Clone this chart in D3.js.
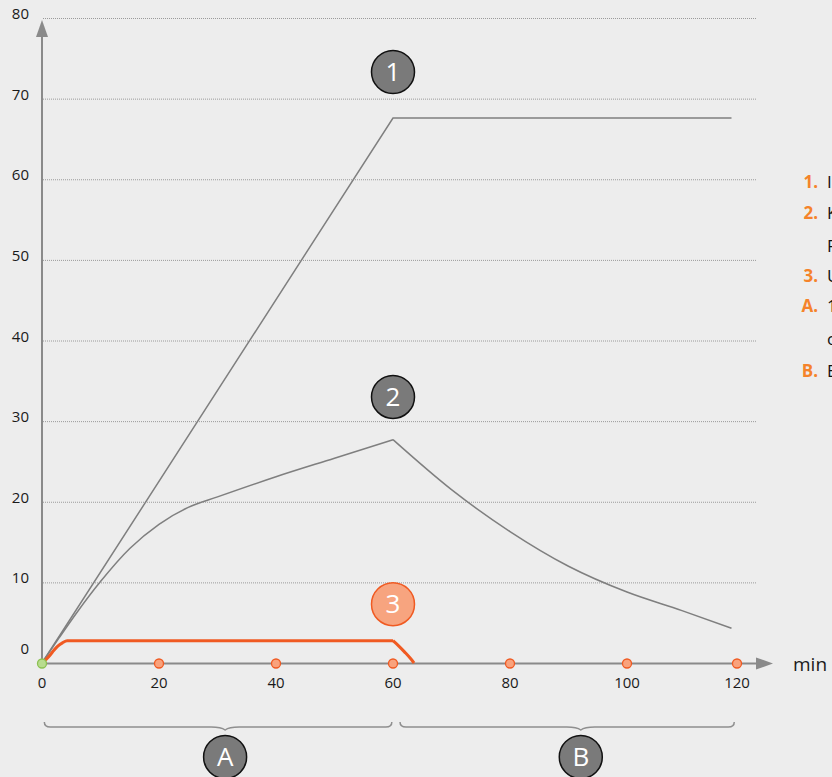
<!DOCTYPE html>
<html>
<head>
<meta charset="utf-8">
<script src="https://cdn.jsdelivr.net/npm/d3@7"></script>
<style>
  html, body { margin: 0; padding: 0; background: #ededed; overflow: hidden; }
  svg { display: block; font-family: "Open Sans", "Noto Sans", sans-serif; }
</style>
</head>
<body>
<script>
// y grid / tick values
var yTicks = [10, 20, 30, 40, 50, 60, 70, 80];
var yLabels = [0, 10, 20, 30, 40, 50, 60, 70, 80];
var xTicks = [0, 20, 40, 60, 80, 100, 120];
var xDots = [20, 40, 60, 80, 100, 120];

// curve 1 : min / value
var line1Min = [0, 60, 119];
var line1Val = [0, 67.6, 67.6];

// curve 2 : rising part and falling part
var line2UpMin = [0, 3, 6, 10, 15, 20, 25, 30, 40, 50, 60];
var line2UpVal = [0, 3.2, 6.3, 10.1, 14.2, 17.2, 19.3, 20.6, 23.1, 25.4, 27.7];
var line2DownMin = [60, 70, 80, 90, 100, 110, 119];
var line2DownVal = [27.7, 21.5, 16.3, 12.0, 8.8, 6.5, 4.3];

// curve 3 : orange
var line3UpMin = [0, 0.7, 1.4, 2, 2.7, 3.5, 4.3, 60];
var line3UpVal = [0, 0.45, 1.0, 1.55, 2.1, 2.5, 2.75, 2.77];
var line3DownMin = [60, 61, 62, 63, 63.6];
var line3DownVal = [2.77, 2.1, 1.35, 0.55, 0];

// number markers
var markNames = ["1", "2", "3"];
var markMin = [60, 60, 60];
var markVal = [73.3, 33, 7.3];

// phases
var phaseNames = ["A", "B"];
var phaseFrom = [0.4, 61.2];
var phaseTo = [59.8, 119.5];
var phaseMid = [31.3, 92.1];

// legend (right side, cut by the page edge)
var legendKeys = ["1.", "2.", "", "3.", "A.", "", "B."];
var legendText = ["Infusionsmenge", "Konzentration im", "Plasma", "Unveränderte Dosis", "1 Stunde Infusion",
                  "ohne Unterbrechung", "Elimination"];

var W = 832, H = 777;
var svg = d3.select("body").append("svg").attr("width", W).attr("height", H);

var x = d3.scaleLinear().domain([0, 100, 120]).range([42, 627, 737]);
var y = d3.scaleLinear().domain([0, 80]).range([663, 18]);

var grey = "#8a8a8a";

// grid
svg.append("g").selectAll("line").data(yTicks).enter().append("line")
    .attr("x1", 43).attr("x2", 757)
    .attr("y1", function(d) { return y(d) + 0.5; })
    .attr("y2", function(d) { return y(d) + 0.5; })
    .attr("stroke", "#9a9a9a").attr("stroke-width", 1)
    .attr("stroke-dasharray", "1,1");

// y labels
svg.append("g").selectAll("text").data(yLabels).enter().append("text")
    .attr("x", 29)
    .attr("y", function(d) { return y(d) + (d === 0 ? -9 : 1); })
    .attr("text-anchor", "end")
    .attr("font-size", 15).attr("fill", "#1a1a1a")
    .text(function(d) { return d; });

// x labels
svg.append("g").selectAll("text").data(xTicks).enter().append("text")
    .attr("x", function(d) { return x(d); })
    .attr("y", 688)
    .attr("text-anchor", "middle")
    .attr("font-size", 15).attr("fill", "#1a1a1a")
    .text(function(d) { return d; });

// axes with arrows
svg.append("line").attr("x1", x(0)).attr("x2", x(0)).attr("y1", y(0)).attr("y2", 34)
    .attr("stroke", grey).attr("stroke-width", 2);
svg.append("path").attr("d", "M" + (x(0) - 6) + ",37 L" + x(0) + ",20 L" + (x(0) + 6) + ",37 Z")
    .attr("fill", grey);
svg.append("line").attr("x1", x(0)).attr("x2", 760).attr("y1", y(0) + 0.5).attr("y2", y(0) + 0.5)
    .attr("stroke", grey).attr("stroke-width", 2);
svg.append("path").attr("d", "M756," + (y(0) - 5.5) + " L773," + (y(0) + 0.5) + " L756," + (y(0) + 6.5) + " Z")
    .attr("fill", grey);
svg.append("text").attr("x", 793).attr("y", y(0) + 8).attr("font-size", 19).attr("fill", "#1a1a1a").text("min");

function pts(ms, vs) { return ms.map(function(m, i) { return [m, vs[i]]; }); }

var lin = d3.line().x(function(d) { return x(d[0]); }).y(function(d) { return y(d[1]); });
var smooth = d3.line().x(function(d) { return x(d[0]); }).y(function(d) { return y(d[1]); })
    .curve(d3.curveMonotoneX);

svg.append("path").attr("d", lin(pts(line1Min, line1Val)))
    .attr("fill", "none").attr("stroke", "#7f7f7f").attr("stroke-width", 1.5);
svg.append("path").attr("d", smooth(pts(line2UpMin, line2UpVal)))
    .attr("fill", "none").attr("stroke", "#7f7f7f").attr("stroke-width", 1.5);
svg.append("path").attr("d", smooth(pts(line2DownMin, line2DownVal)))
    .attr("fill", "none").attr("stroke", "#7f7f7f").attr("stroke-width", 1.5);
svg.append("path").attr("d", smooth(pts(line3UpMin, line3UpVal)))
    .attr("fill", "none").attr("stroke", "#f05a22").attr("stroke-width", 3);
svg.append("path").attr("d", smooth(pts(line3DownMin, line3DownVal)))
    .attr("fill", "none").attr("stroke", "#f05a22").attr("stroke-width", 3);

// dots on x axis
svg.append("g").selectAll("circle").data(xDots).enter().append("circle")
    .attr("cx", function(d) { return x(d); }).attr("cy", y(0) + 0.5).attr("r", 4.5)
    .attr("fill", "#f9a27c").attr("stroke", "#f05a22").attr("stroke-width", 1.3);
svg.append("circle").attr("cx", x(0)).attr("cy", y(0) + 0.5).attr("r", 4.5)
    .attr("fill", "#b8dc8e").attr("stroke", "#8cc152").attr("stroke-width", 1.3);

// number markers
markNames.forEach(function(n, i) {
  var g = svg.append("g").attr("transform", "translate(" + x(markMin[i]) + "," + y(markVal[i]) + ")");
  var orange = n === "3";
  g.append("circle").attr("r", 21.5)
    .attr("fill", orange ? "#f7a47f" : "#7a7a7a")
    .attr("stroke", orange ? "#f05a22" : "#111").attr("stroke-width", 1.5);
  g.append("text").attr("text-anchor", "middle").attr("dy", 9).attr("font-size", 26)
    .attr("fill", "#fff").text(n);
});

// braces + phase markers
phaseNames.forEach(function(n, i) {
  var x0 = x(phaseFrom[i]), x1 = x(phaseTo[i]), xm = x(phaseMid[i]);
  var yb = 727;
  var d = "M" + x0 + "," + (yb - 5) +
          " Q" + x0 + "," + yb + " " + (x0 + 6) + "," + yb +
          " L" + (xm - 14) + "," + yb +
          " Q" + (xm - 4) + "," + yb + " " + xm + "," + (yb + 3) +
          " Q" + (xm + 4) + "," + yb + " " + (xm + 14) + "," + yb +
          " L" + (x1 - 6) + "," + yb +
          " Q" + x1 + "," + yb + " " + x1 + "," + (yb - 5);
  svg.append("path").attr("d", d).attr("fill", "none").attr("stroke", "#8f8f8f").attr("stroke-width", 1.5);
  var g = svg.append("g").attr("transform", "translate(" + xm + ",757)");
  g.append("circle").attr("r", 21.5).attr("fill", "#7a7a7a").attr("stroke", "#111").attr("stroke-width", 1.5);
  g.append("text").attr("text-anchor", "middle").attr("dy", 9).attr("font-size", 26)
    .attr("fill", "#fff").text(n);
});

// legend
var legY = [188, 219, 252, 282, 312, 345, 377];
legendKeys.forEach(function(k, i) {
  if (k) {
    svg.append("text").attr("x", 818).attr("y", legY[i]).attr("text-anchor", "end")
      .attr("font-size", 17).attr("font-weight", "bold").attr("fill", "#f5832a").text(k);
  }
  svg.append("text").attr("x", 827).attr("y", legY[i]).attr("font-size", 17)
    .attr("fill", "#111").text(legendText[i]);
});
</script>
</body>
</html>
